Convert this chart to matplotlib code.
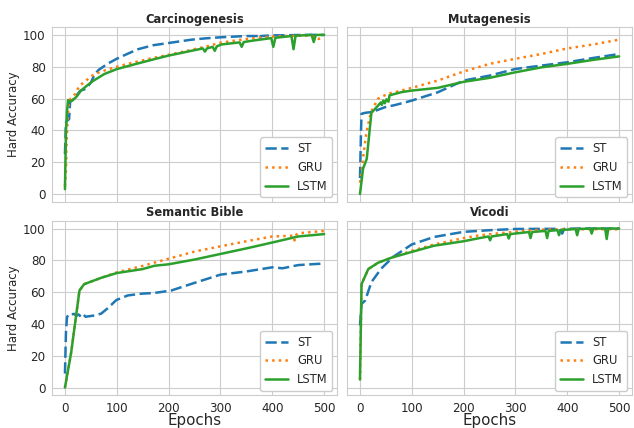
import matplotlib
matplotlib.use("Agg")
import matplotlib.pyplot as plt
import seaborn as sns

sns.set_style("whitegrid")
plt.rcParams['font.family'] = ['DejaVu Sans']

# ---- Carcinogenesis ----
carc_st_ep = [0, 2, 4, 8, 10, 15, 20, 30, 40, 50, 57, 65, 83, 100, 120, 141, 170, 202, 244, 270,
              300, 330, 350, 374, 376, 378, 400, 430, 460, 500]
carc_st = [25, 45, 46, 47, 58, 59, 61, 65, 66, 70, 75, 78, 82, 85, 88, 91, 93.5, 95, 97, 97.8,
           98.5, 99, 99.3, 99.3, 97.3, 99.3, 99.7, 99.8, 100, 100]
carc_gru_ep = [0, 2, 3, 5, 8, 15, 20, 28, 40, 50, 70, 100, 130, 170, 200, 244, 270, 302, 340, 380,
               420, 460, 475, 490, 500]
carc_gru = [5, 15, 30, 47, 59, 61, 63, 68, 71, 74, 77, 80, 82.5, 85.5, 87.5, 90.6, 92.5, 95.2, 97, 98.5,
            99.3, 99.5, 99.6, 97.5, 98]
carc_lstm_ep = [0, 2, 4, 6, 10, 15, 22, 31, 42, 54, 76, 100, 140, 173, 200, 244, 266, 270, 274, 285,
                289, 293, 302, 337, 341, 345, 360, 398, 402, 406, 437, 441, 445, 476, 480, 484, 500]
carc_lstm = [3, 40, 52, 59, 58, 59, 61, 65, 68, 71, 75.4, 78.5, 82, 84.8, 87, 90, 91.5, 89.5, 91.5, 92.5,
             90, 92.8, 94, 95.3, 92.5, 95.5, 96.3, 98, 92.5, 98.2, 99.3, 91, 99.5, 100, 95.5, 100, 100]

# ---- Mutagenesis ----
mut_st_ep = [0, 2, 3, 10, 23, 48, 69, 100, 150, 200, 250, 300, 350, 400, 450, 500]
mut_st = [10, 40, 50.4, 51, 51.5, 54.5, 56, 58.7, 63.9, 71.3, 74.4, 78.6, 80.7, 82.8, 85.5, 88]
mut_gru_ep = [0, 3, 6, 12, 21, 35, 54, 80, 100, 150, 200, 250, 300, 350, 400, 450, 500]
mut_gru = [7, 14, 22.6, 38, 51.4, 60, 63, 65, 66.7, 71.3, 77, 81.8, 85, 88, 91.5, 94, 97]
mut_lstm_ep = [0, 6, 13, 22, 35, 40, 42, 45, 48, 51, 55, 57, 80, 100, 150, 200, 250, 300, 350, 400,
               450, 500]
mut_lstm = [0, 16, 22, 51, 55.6, 57.5, 56, 58.7, 57, 59.5, 58, 62, 64, 65, 66.7, 70.5, 73, 76.5, 79.6, 81.8,
            84.3, 86.5]

# ---- Semantic Bible ----
sb_st_ep = [0, 2, 4, 8, 12, 18, 22, 26, 31, 35, 40, 44, 50, 57, 70, 83, 99, 121, 147, 173, 205, 247,
            300, 350, 400, 420, 450, 500]
sb_st = [8.8, 35, 44.3, 46.3, 46, 46.3, 45, 46, 44.5, 46, 44.5, 44.7, 45, 45.3, 46.5, 50, 55, 57.9, 59,
         59.5, 61, 65.5, 71, 73, 75.6, 75, 77, 78]
sb_gru_ep = [0, 12, 28, 37, 70, 100, 150, 200, 250, 300, 350, 400, 440, 443, 446, 450, 500]
sb_gru = [0, 22, 61, 65, 69, 72.4, 76.5, 81, 85.5, 88.8, 92, 95, 95.5, 92.5, 96, 97, 98.5]
sb_lstm_ep = [0, 12, 28, 37, 70, 100, 150, 173, 200, 250, 300, 350, 400, 450, 500]
sb_lstm = [0, 22, 61, 65, 69, 72, 74.5, 76.6, 77.5, 80.5, 84, 87.5, 91.2, 95, 96.5]

# ---- Vicodi ----
vic_st_ep = [0, 3, 10, 22, 41, 64, 100, 143, 200, 253, 300, 350, 386, 390, 394, 420, 500]
vic_st = [39, 52.6, 54.7, 66.3, 74.8, 82.2, 90, 94.7, 97.9, 99, 99.7, 99.8, 99.8, 96.8, 99.8, 100, 100]
vic_gru_ep = [0, 3, 16, 35, 61, 100, 143, 200, 226, 253, 300, 350, 400, 500]
vic_gru = [5, 65, 74.5, 78.5, 81.7, 86, 90, 94, 95.5, 96.5, 98, 99.3, 99.6, 99.5]
vic_lstm_ep = [0, 3, 16, 35, 61, 100, 143, 200, 226, 248, 251, 254, 284, 287, 290, 326, 329, 332,
               358, 361, 364, 381, 384, 387, 416, 419, 422, 444, 447, 450, 473, 476, 479, 500]
vic_lstm = [5, 65, 74.5, 78.5, 81.7, 85.3, 89.2, 92, 93.7, 95, 92.6, 95, 96.5, 93.7, 96.5, 97.8, 94, 97.8,
            98.5, 94, 98.5, 99, 95.8, 99, 99.7, 95.8, 99.7, 100, 96.8, 100, 100, 93.4, 100, 100]

panels = [
    ("Carcinogenesis", carc_st_ep, carc_st, carc_gru_ep, carc_gru, carc_lstm_ep, carc_lstm),
    ("Mutagenesis", mut_st_ep, mut_st, mut_gru_ep, mut_gru, mut_lstm_ep, mut_lstm),
    ("Semantic Bible", sb_st_ep, sb_st, sb_gru_ep, sb_gru, sb_lstm_ep, sb_lstm),
    ("Vicodi", vic_st_ep, vic_st, vic_gru_ep, vic_gru, vic_lstm_ep, vic_lstm),
]

fig, axes = plt.subplots(2, 2, figsize=(6.34, 4.28), dpi=100, sharex=True, sharey=True)
fig.subplots_adjust(left=0.082, right=0.997, top=0.937, bottom=0.076, wspace=0.035, hspace=0.107)

for ax, (name, st_x, st_y, gru_x, gru_y, lstm_x, lstm_y) in zip(axes.flat, panels):
    ax.plot(st_x, st_y, color="#1f77b4", linestyle="--", dashes=(4.5, 1.8), linewidth=1.8, label="ST")
    ax.plot(gru_x, gru_y, color="#ff7f0e", linestyle=":", linewidth=1.8, label="GRU")
    ax.plot(lstm_x, lstm_y, color="#2ca02c", linestyle="-", linewidth=1.8, label="LSTM")
    ax.set_title(name, fontsize=8.3, fontweight="bold", color="#262626", pad=3)
    ax.set_xticks([0, 100, 200, 300, 400, 500])
    ax.set_yticks([0, 20, 40, 60, 80, 100])
    ax.tick_params(labelsize=8.6, colors="#262626", pad=1)
    ax.legend(loc="lower right", fontsize=8.3, handlelength=2.0, framealpha=1, borderaxespad=0.4)

axes[0, 0].set_ylabel("Hard Accuracy", fontsize=8.5, color="#262626", labelpad=2)
axes[1, 0].set_ylabel("Hard Accuracy", fontsize=8.5, color="#262626", labelpad=2)
axes[1, 0].set_xlabel("Epochs", fontsize=10.8, color="#262626", labelpad=-1)
axes[1, 1].set_xlabel("Epochs", fontsize=10.8, color="#262626", labelpad=-1)

fig.savefig("out.png", dpi=100)
